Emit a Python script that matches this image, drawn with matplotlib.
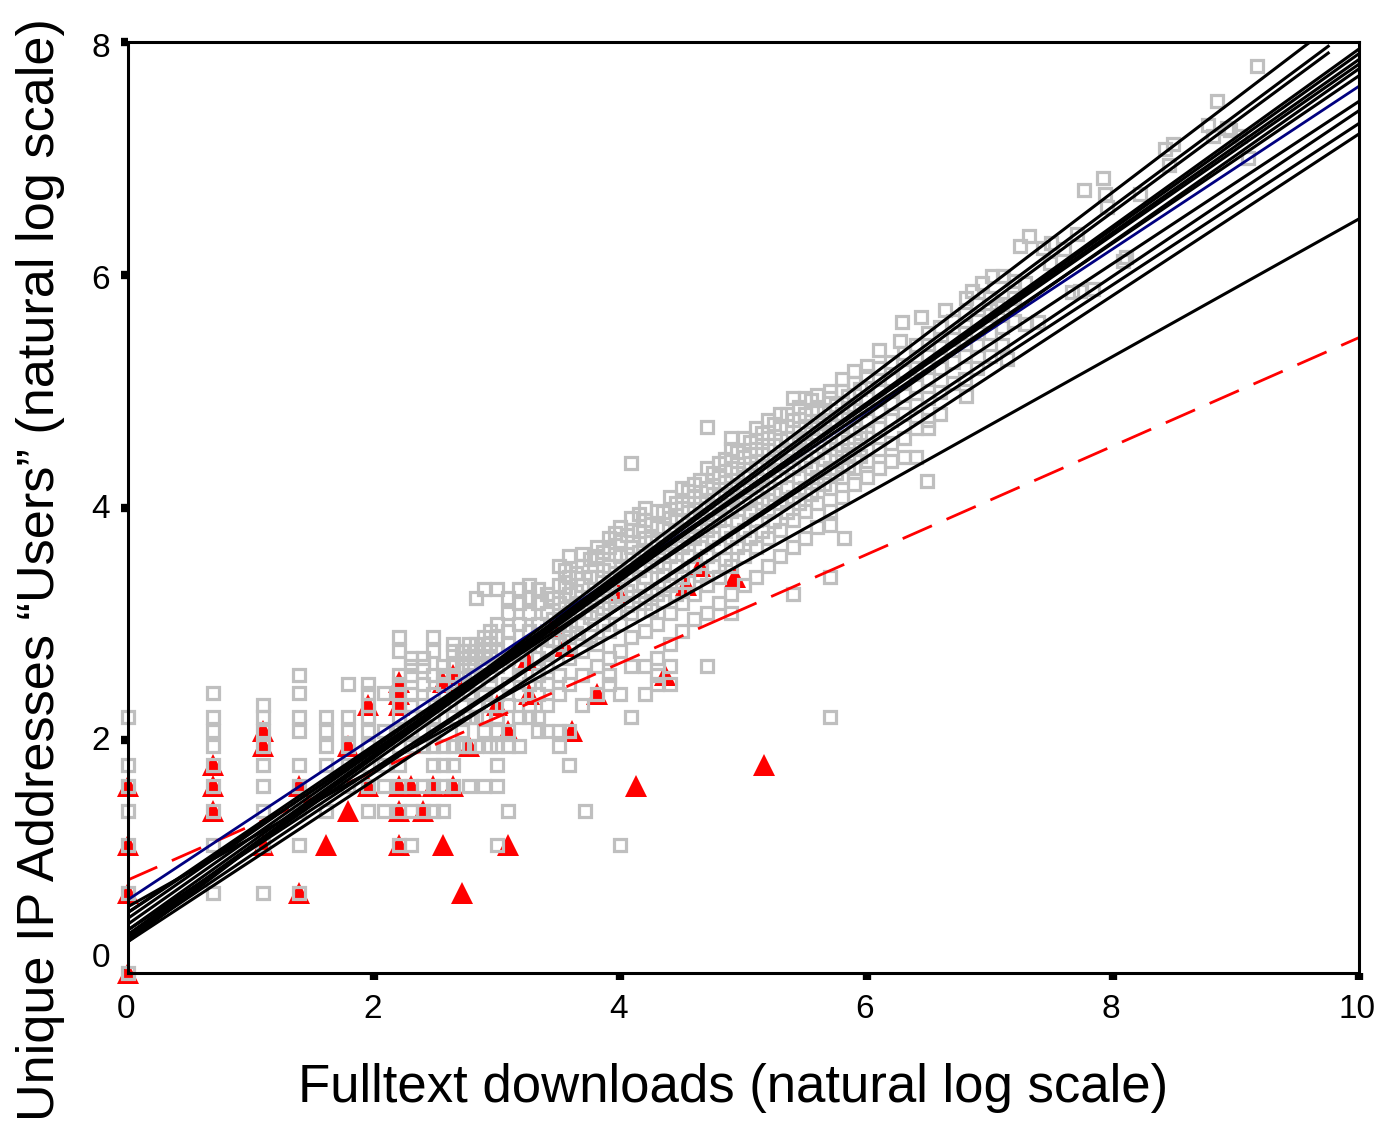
import matplotlib
matplotlib.use('Agg')
import matplotlib.pyplot as plt
import matplotlib.transforms as mtrans
import numpy as np

plt.rcParams['font.family'] = ['Liberation Sans', 'DejaVu Sans']

# Grey squares as (log downloads, log users)
grey_low = [
    (0, 0), (0, .69), (0, 1.1), (0, 1.39), (0, 1.61), (0, 1.79), (0, 2.2),
    (.69, .69), (.69, 1.1), (.69, 1.39), (.69, 1.61), (.69, 1.79), (.69, 1.95), (.69, 2.08), (.69, 2.2), (.69, 2.41),
    (1.1, .69), (1.1, 1.1), (1.1, 1.39), (1.1, 1.61), (1.1, 1.79), (1.1, 1.95), (1.1, 2.08), (1.1, 2.2), (1.1, 2.3),
    (1.39, .69), (1.39, 1.1), (1.39, 1.39), (1.39, 1.61), (1.39, 1.79), (1.39, 2.08), (1.39, 2.2), (1.39, 2.41), (1.39, 2.56),
    (1.61, 1.39), (1.61, 1.79), (1.61, 1.95), (1.61, 2.08), (1.61, 2.2),
    (1.79, 1.61), (1.79, 1.79), (1.79, 1.95), (1.79, 2.08), (1.79, 2.2), (1.79, 2.48),
    (1.95, 1.39), (1.95, 1.61), (1.95, 1.79), (1.95, 1.95), (1.95, 2.08), (1.95, 2.2), (1.95, 2.3), (1.95, 2.41), (1.95, 2.48),
    (2.08, 1.39), (2.08, 1.61), (2.08, 1.79), (2.08, 2.08), (2.08, 2.41),
]
grey_mid = [
    (2.2, 1.1), (2.2, 1.39), (2.2, 1.61), (2.2, 1.79), (2.2, 1.95), (2.2, 2.08), (2.2, 2.2), (2.2, 2.3), (2.2, 2.4), (2.2, 2.48), (2.2, 2.56), (2.2, 2.77), (2.2, 2.89),
    (2.3, 1.1), (2.3, 1.39), (2.3, 1.61), (2.3, 1.95), (2.3, 2.08), (2.3, 2.2), (2.3, 2.3), (2.3, 2.4), (2.3, 2.56), (2.3, 2.64), (2.3, 2.71),
    (2.4, 1.39), (2.4, 1.61), (2.4, 1.95), (2.4, 2.08), (2.4, 2.2), (2.4, 2.3), (2.4, 2.48), (2.4, 2.64), (2.4, 2.71),
    (2.48, 1.39), (2.48, 1.61), (2.48, 1.79), (2.48, 1.95), (2.48, 2.08), (2.48, 2.2), (2.48, 2.4), (2.48, 2.56), (2.48, 2.77), (2.48, 2.89),
    (2.56, 1.39), (2.56, 1.61), (2.56, 1.79), (2.56, 1.95), (2.56, 2.3), (2.56, 2.48), (2.56, 2.56), (2.56, 2.64),
    (2.64, 1.61), (2.64, 1.79), (2.64, 1.95), (2.64, 2.2), (2.64, 2.4), (2.64, 2.56), (2.64, 2.64), (2.64, 2.77), (2.64, 2.83),
    (2.71, 1.95), (2.71, 2.08), (2.71, 2.3), (2.71, 2.48), (2.71, 2.64), (2.71, 2.71), (2.71, 2.77),
    (2.77, 1.61), (2.77, 1.95), (2.77, 2.2), (2.77, 2.4), (2.77, 2.56), (2.77, 2.64), (2.77, 2.77), (2.77, 2.83),
    (2.83, 1.95), (2.83, 2.2), (2.83, 2.3), (2.83, 2.48), (2.83, 2.56), (2.83, 2.71), (2.83, 2.83), (2.83, 3.22),
    (2.89, 1.61), (2.89, 2.08), (2.89, 2.2), (2.89, 2.4), (2.89, 2.64), (2.89, 2.77), (2.89, 2.89), (2.89, 3.3),
    (2.94, 1.95), (2.94, 2.3), (2.94, 2.48), (2.94, 2.56), (2.94, 2.71), (2.94, 2.83), (2.94, 2.94),
    (3.0, 1.1), (3.0, 1.61), (3.0, 1.79), (3.0, 1.95), (3.0, 2.08), (3.0, 2.2), (3.0, 2.4), (3.0, 2.64), (3.0, 2.77), (3.0, 2.89), (3.0, 3.0), (3.0, 3.3),
    (3.09, 1.39), (3.09, 1.95), (3.09, 2.08), (3.09, 2.3), (3.09, 2.48), (3.09, 2.71), (3.09, 2.83), (3.09, 2.94), (3.09, 3.09), (3.09, 3.22),
    (3.18, 1.95), (3.18, 2.2), (3.18, 2.4), (3.18, 2.56), (3.18, 2.64), (3.18, 2.77), (3.18, 3.0), (3.18, 3.18), (3.18, 3.3),
    (3.26, 2.2), (3.26, 2.3), (3.26, 2.48), (3.26, 2.83), (3.26, 2.94), (3.26, 3.09), (3.26, 3.22), (3.26, 3.33),
    (3.33, 2.08), (3.33, 2.2), (3.33, 2.4), (3.33, 2.56), (3.33, 2.71), (3.33, 2.89), (3.33, 3.0), (3.33, 3.18), (3.33, 3.3),
    (3.4, 2.08), (3.4, 2.3), (3.4, 2.48), (3.4, 2.64), (3.4, 2.77), (3.4, 2.94), (3.4, 3.09), (3.4, 3.26),
    (3.5, 1.95), (3.5, 2.08), (3.5, 2.4), (3.5, 2.56), (3.5, 2.83), (3.5, 3.0), (3.5, 3.18), (3.5, 3.33), (3.5, 3.5),
    (3.58, 1.79), (3.58, 2.08), (3.58, 2.48), (3.58, 2.71), (3.58, 2.89), (3.58, 3.09), (3.58, 3.26), (3.58, 3.4), (3.58, 3.58),
    (3.71, 1.39), (3.69, 2.3), (3.69, 2.56), (3.69, 2.77), (3.69, 3.0), (3.69, 3.18), (3.69, 3.33), (3.69, 3.5), (3.69, 3.6),
    (3.81, 2.4), (3.81, 2.64), (3.81, 2.83), (3.81, 3.09), (3.81, 3.26), (3.81, 3.4), (3.81, 3.58), (3.81, 3.66),
    (3.91, 2.48), (3.91, 2.56), (3.91, 2.71), (3.91, 2.94), (3.91, 3.18), (3.91, 3.33), (3.91, 3.5), (3.91, 3.66), (3.91, 3.74),
    (4.0, 1.1), (4.0, 2.4), (4.0, 2.77), (4.0, 3.0), (4.0, 3.26), (4.0, 3.4), (4.0, 3.58), (4.0, 3.71), (4.0, 3.83),
]
grey_band = [
    (4.09, 2.2), (4.09, 2.64), (4.09, 2.89), (4.09, 3.09), (4.09, 3.33), (4.09, 3.5), (4.09, 3.66), (4.09, 3.81), (4.09, 3.91), (4.09, 4.38),
    (4.2, 2.4), (4.2, 2.64), (4.2, 2.94), (4.2, 3.18), (4.2, 3.4), (4.2, 3.58), (4.2, 3.74), (4.2, 3.89), (4.2, 4.0),
    (4.3, 2.48), (4.3, 2.56), (4.3, 2.71), (4.3, 3.0), (4.3, 3.26), (4.3, 3.5), (4.3, 3.66), (4.3, 3.83), (4.3, 3.97),
    (4.4, 2.48), (4.4, 2.64), (4.4, 2.83), (4.4, 3.09), (4.4, 3.33), (4.4, 3.58), (4.4, 3.74), (4.4, 3.91), (4.4, 4.09),
    (4.5, 2.94), (4.5, 3.18), (4.5, 3.4), (4.5, 3.66), (4.5, 3.81), (4.5, 4.0), (4.5, 4.17),
    (4.6, 3.04), (4.6, 3.26), (4.6, 3.5), (4.6, 3.74), (4.6, 3.91), (4.6, 4.09), (4.6, 4.2),
    (4.7, 2.64), (4.7, 3.09), (4.7, 3.33), (4.7, 3.58), (4.7, 3.81), (4.7, 4.0), (4.7, 4.17), (4.7, 4.34), (4.7, 4.69),
    (4.8, 3.18), (4.8, 3.4), (4.8, 3.66), (4.8, 3.89), (4.8, 4.09), (4.8, 4.26), (4.8, 4.38),
    (4.9, 3.09), (4.9, 3.26), (4.9, 3.5), (4.9, 3.74), (4.9, 3.97), (4.9, 4.17), (4.9, 4.34), (4.9, 4.5), (4.9, 4.6),
    (5.0, 3.33), (5.0, 3.58), (5.0, 3.81), (5.0, 4.04), (5.0, 4.26), (5.0, 4.43), (5.0, 4.6),
    (5.1, 3.4), (5.1, 3.66), (5.1, 3.89), (5.1, 4.09), (5.1, 4.34), (5.1, 4.5), (5.1, 4.68),
    (5.2, 3.5), (5.2, 3.74), (5.2, 3.97), (5.2, 4.17), (5.2, 4.4), (5.2, 4.6), (5.2, 4.75),
    (5.3, 3.58), (5.3, 3.81), (5.3, 4.04), (5.3, 4.26), (5.3, 4.48), (5.3, 4.68), (5.3, 4.8),
    (5.4, 3.26), (5.4, 3.66), (5.4, 3.89), (5.4, 4.09), (5.4, 4.34), (5.4, 4.55), (5.4, 4.75), (5.4, 4.94),
    (5.5, 3.74), (5.5, 3.97), (5.5, 4.17), (5.5, 4.4), (5.5, 4.6), (5.5, 4.8), (5.5, 4.94),
    (5.6, 3.83), (5.6, 4.04), (5.6, 4.26), (5.6, 4.48), (5.6, 4.68), (5.6, 4.85), (5.6, 4.97),
    (5.7, 2.2), (5.7, 3.4), (5.7, 3.85), (5.7, 3.97), (5.7, 4.17), (5.7, 4.34), (5.7, 4.55), (5.7, 4.75), (5.7, 4.94), (5.7, 5.0),
    (5.82, 3.74), (5.8, 4.09), (5.8, 4.26), (5.8, 4.43), (5.8, 4.6), (5.8, 4.8), (5.8, 5.0), (5.8, 5.1),
    (5.9, 4.2), (5.9, 4.34), (5.9, 4.5), (5.9, 4.68), (5.9, 4.88), (5.9, 5.07), (5.9, 5.17),
    (6.0, 4.26), (6.0, 4.4), (6.0, 4.6), (6.0, 4.75), (6.0, 4.94), (6.0, 5.13), (6.0, 5.22),
    (6.1, 4.34), (6.1, 4.5), (6.1, 4.68), (6.1, 4.83), (6.1, 5.0), (6.1, 5.2), (6.1, 5.35),
    (6.2, 4.4), (6.2, 4.55), (6.2, 4.75), (6.2, 4.9), (6.2, 5.1), (6.2, 5.25),
    (6.49, 4.23), (6.3, 4.43), (6.3, 4.6), (6.3, 4.8), (6.3, 4.97), (6.3, 5.17), (6.3, 5.33), (6.29, 5.59),
    (6.4, 4.43), (6.4, 4.68), (6.4, 4.88), (6.4, 5.04), (6.4, 5.2), (6.4, 5.4),
]
# extra squares that close the gaps inside the dense band
grey_fill = [
    (3.45, 2.86), (3.45, 3.04), (3.45, 3.22), (3.55, 2.96), (3.55, 3.14), (3.55, 3.32), (3.55, 3.46),
    (3.64, 2.92), (3.64, 3.1), (3.64, 3.28), (3.64, 3.44), (3.75, 2.9), (3.75, 3.06), (3.75, 3.22), (3.75, 3.4), (3.75, 3.56),
    (3.86, 3.0), (3.86, 3.14), (3.86, 3.3), (3.86, 3.46), (3.86, 3.62), (3.96, 3.1), (3.96, 3.24), (3.96, 3.44), (3.96, 3.6), (3.96, 3.78),
    (4.05, 3.16), (4.05, 3.28), (4.05, 3.44), (4.05, 3.6), (4.05, 3.76), (4.15, 3.24), (4.15, 3.46), (4.15, 3.62), (4.15, 3.8), (4.15, 3.94),
    (4.25, 3.12), (4.25, 3.3), (4.25, 3.54), (4.25, 3.7), (4.25, 3.86), (4.35, 3.2), (4.35, 3.42), (4.35, 3.62), (4.35, 3.82), (4.35, 3.96),
    (4.45, 3.26), (4.45, 3.5), (4.45, 3.7), (4.45, 3.88), (4.45, 4.04), (4.55, 3.36), (4.55, 3.58), (4.55, 3.8), (4.55, 3.96), (4.55, 4.14),
    (4.65, 3.42), (4.65, 3.66), (4.65, 3.86), (4.65, 4.04), (4.65, 4.24), (4.75, 3.5), (4.75, 3.74), (4.75, 3.94), (4.75, 4.12), (4.75, 4.3),
    (4.85, 3.56), (4.85, 3.8), (4.85, 4.02), (4.85, 4.22), (4.85, 4.42), (4.95, 3.66), (4.95, 3.88), (4.95, 4.1), (4.95, 4.3), (4.95, 4.48),
    (5.05, 3.74), (5.05, 3.96), (5.05, 4.18), (5.05, 4.38), (5.05, 4.56), (5.15, 3.8), (5.15, 4.04), (5.15, 4.24), (5.15, 4.46), (5.15, 4.64),
    (5.25, 3.88), (5.25, 4.12), (5.25, 4.32), (5.25, 4.54), (5.25, 4.72), (5.35, 3.96), (5.35, 4.18), (5.35, 4.4), (5.35, 4.6), (5.35, 4.8),
    (5.45, 4.04), (5.45, 4.26), (5.45, 4.48), (5.45, 4.68), (5.45, 4.86), (5.55, 4.12), (5.55, 4.34), (5.55, 4.54), (5.55, 4.74), (5.55, 4.92),
    (5.65, 4.2), (5.65, 4.42), (5.65, 4.62), (5.65, 4.82), (5.75, 4.3), (5.75, 4.5), (5.75, 4.7), (5.75, 4.88),
    (5.85, 4.36), (5.85, 4.56), (5.85, 4.76), (5.85, 4.96), (5.95, 4.44), (5.95, 4.64), (5.95, 4.84), (5.95, 5.02),
]
grey_top = [
    (6.5, 4.68), (6.5, 4.75), (6.5, 4.94), (6.5, 5.1), (6.5, 5.3), (6.5, 5.5),
    (6.6, 4.8), (6.6, 4.99), (6.6, 5.2), (6.6, 5.38), (6.6, 5.55),
    (6.81, 4.96), (6.7, 5.07), (6.7, 5.25), (6.7, 5.45), (6.7, 5.6),
    (6.8, 5.1), (6.8, 5.3), (6.8, 5.5), (6.8, 5.66), (6.9, 5.2), (6.9, 5.4), (6.9, 5.6), (6.9, 5.75),
    (7.0, 5.3), (7.0, 5.5), (7.0, 5.65), (7.0, 5.8), (7.1, 5.4), (7.1, 5.55), (7.1, 5.75), (7.14, 5.28),
    (7.2, 5.6), (7.2, 5.8), (7.2, 5.95), (6.27, 5.43), (6.44, 5.64), (6.64, 5.7),
    (6.81, 5.8), (6.86, 5.86), (6.94, 5.93), (7.02, 5.99), (7.11, 5.99), (7.06, 5.72),
    (7.29, 5.93), (7.39, 5.59), (7.29, 5.58), (7.25, 6.25), (7.32, 6.33), (7.43, 6.23), (7.5, 6.27), (7.49, 6.1),
    (7.6, 6.22), (7.71, 6.35), (7.67, 5.85), (7.73, 5.86), (7.84, 5.88), (8.11, 6.15), (8.08, 6.12),
    (7.77, 6.73), (7.92, 6.83), (7.94, 6.69), (7.95, 6.58), (8.22, 6.69),
    (8.42, 7.08), (8.49, 7.12), (8.46, 6.94), (8.77, 7.29), (8.81, 7.19), (8.85, 7.49),
    (8.93, 7.26), (8.95, 7.24), (9.03, 7.19), (9.1, 7.0), (9.17, 7.79),
]

# Red triangles
red_x = [0, 0, 0, 0, .69, .69, .69, 1.1, 1.1, 1.1, 1.39, 1.39, 1.61, 1.79, 1.79, 1.95, 1.95, 2.2, 2.2, 2.2, 2.2, 2.2, 2.2,
         2.3, 2.48, 2.4, 2.56, 2.64, 2.71, 2.77, 3.0, 3.09, 3.09, 3.26, 3.61, 3.81, 4.13, 4.36, 5.17, 4.93, 4.53, 4.65,
         2.64, 3.24, 3.45, 3.55, 3.98, 2.56]
red_y = [0, .69, 1.1, 1.61, 1.39, 1.61, 1.79, 1.1, 1.95, 2.08, .69, 1.61, 1.1, 1.39, 1.95, 1.61, 2.3, 2.5, 2.4, 2.3, 1.61, 1.39, 1.1,
         1.61, 1.61, 1.39, 1.1, 1.61, .69, 1.95, 2.3, 1.1, 2.08, 2.4, 2.08, 2.4, 1.61, 2.56, 1.79, 3.4, 3.33, 3.5,
         2.56, 2.69, 2.97, 2.81, 3.27, 2.5]

# Fitted lines: intercept, slope, last x
line_a = [.27, .30, .30, .33, .37, .42, .47, .33, .52, .52, .30, .37, .27, .57]
line_b = [.805, .786, .780, .761, .753, .743, .734, .744, .719, .697, .711, .693, .694, .591]
line_end = [9.6, 9.75, 9.75, 10, 10, 10, 10, 10, 10, 10, 10, 10, 10, 10]
blue_a, blue_b = .63, .699
red_a, red_b = .80, .466

x_ticks = [0, 2, 4, 6, 8, 10]
y_ticks = [0, 2, 4, 6, 8]

fig = plt.figure(figsize=(13.8, 11.22), dpi=100)
ax = fig.add_axes([128 / 1380, 1 - 973 / 1122, (1359 - 128) / 1380, (973 - 42) / 1122])

ax.plot(red_x, red_y, ls='none', marker='^', ms=15.5, color='#ff0000', mew=0, clip_on=False, zorder=2)
grey = np.array(grey_low + grey_mid + grey_band + grey_fill + grey_top)
ax.plot(grey[:, 0], grey[:, 1], ls='none', marker='s', ms=9, mfc='none', mec='#bfbfbf', mew=2.3, clip_on=False, zorder=3)

xs = np.array([0, 10])
red_dash = [11.5, 5.75] * 13 + [23, 5.75] + [11.5, 5.75] * 20
ax.plot(xs, red_a + red_b * xs, color='#ff0000', lw=2, dashes=red_dash, zorder=3.5)
ax.plot(xs, blue_a + blue_b * xs, color='#000080', lw=2, zorder=3.6)
for a, b, end in zip(line_a, line_b, line_end):
    ax.plot([0, end], [a, a + b * end], color='black', lw=2.2, zorder=4)

ax.set_xlim(0, 10)
ax.set_ylim(0, 8)
ax.set_xticks(x_ticks)
ax.set_yticks(y_ticks)
ax.tick_params(axis='y', labelsize=24, length=5, width=6, pad=8)
ax.tick_params(axis='x', labelsize=24, length=5, width=6, pad=10)
for spine in ax.spines.values():
    spine.set_linewidth(2.2)
    spine.set_zorder(10)

# tick labels sit a little off their ticks
for lab, dy in zip(ax.get_yticklabels(), [18, 2, 1, -2, -3]):
    lab.set_transform(lab.get_transform() + mtrans.ScaledTranslation(0, dy / 100, fig.dpi_scale_trans))
for lab in ax.get_xticklabels():
    lab.set_transform(lab.get_transform() + mtrans.ScaledTranslation(-2 / 100, 0, fig.dpi_scale_trans))

fig.text(733 / 1380, 1 - 1088 / 1122, 'Fulltext downloads (natural log scale)', fontsize=38, ha='center', va='center')
fig.text(41 / 1380, 1 - 570 / 1122, 'Unique IP Addresses \u201cUsers\u201d (natural log scale)', fontsize=37.6,
         rotation=90, ha='center', va='center')

fig.savefig('out.png', dpi=100)
